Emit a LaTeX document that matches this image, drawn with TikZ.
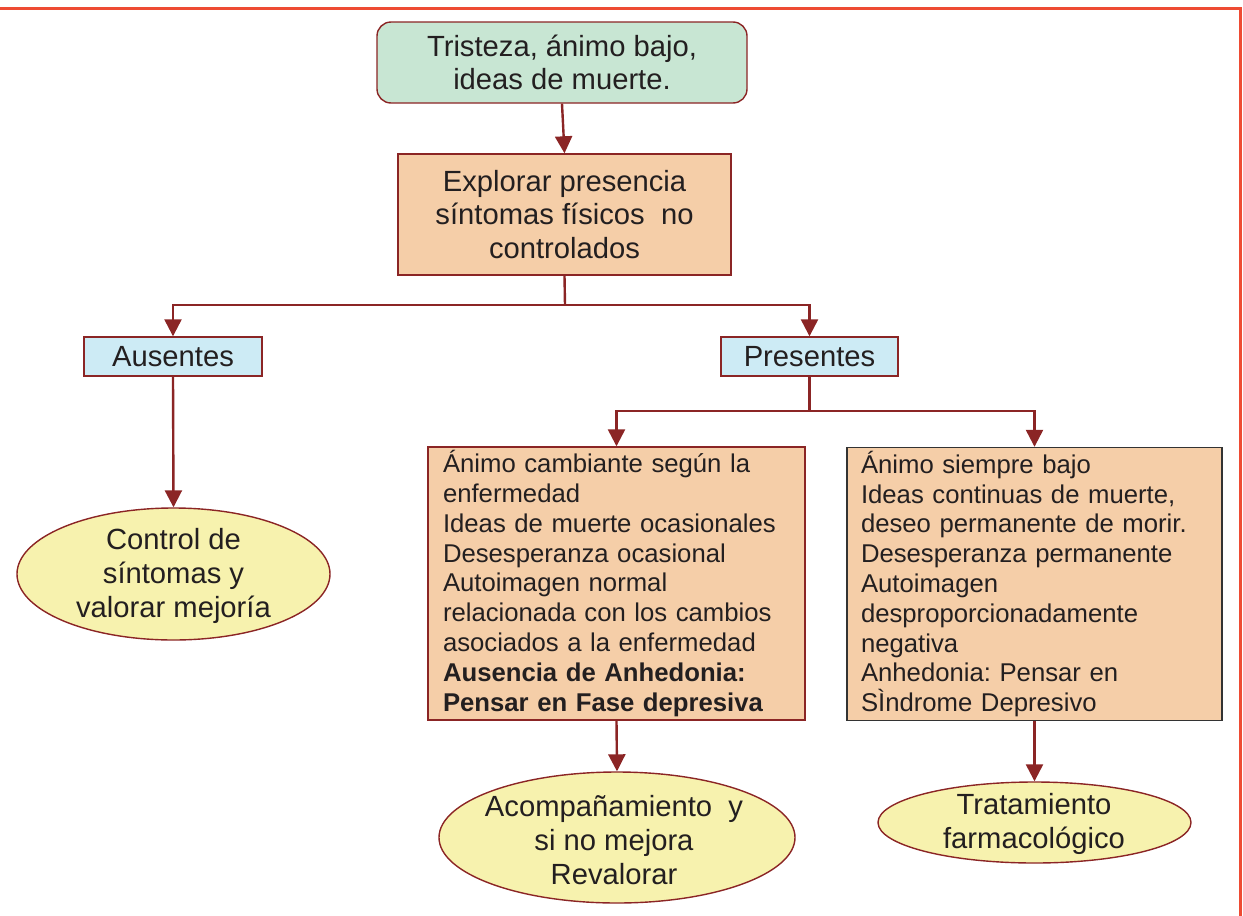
\documentclass[tikz,border=0pt]{standalone}
\usepackage{fontspec}
\setmainfont{Liberation Sans}
\usetikzlibrary{arrows.meta,shapes.geometric}
\definecolor{framered}{HTML}{EE4B33}
\definecolor{linered}{HTML}{8B2525}
\definecolor{greenfill}{HTML}{C8E6D3}
\definecolor{orangefill}{HTML}{F5CEA8}
\definecolor{bluefill}{HTML}{CDEBF5}
\definecolor{yellowfill}{HTML}{F7F2AE}
\definecolor{txt}{HTML}{231F20}
\frenchspacing
\begin{document}
\begin{tikzpicture}[x=0.5pt,y=-0.5pt,
  big/.style={font=\fontsize{14.6pt}{16.8pt}\selectfont, text=txt},
  small/.style={font=\fontsize{12.85pt}{14.9pt}\selectfont, text=txt},
  topbox/.style={big, draw=linered, line width=0.7pt, fill=greenfill, rounded corners=7pt, minimum width=185pt, minimum height=40.5pt, align=center, inner sep=0pt},
  orbox/.style={big, draw=linered, line width=0.7pt, fill=orangefill, minimum width=166.5pt, minimum height=60.5pt, align=center, inner sep=0pt},
  bluebox/.style={big, draw=linered, line width=0.7pt, fill=bluefill, minimum width=89pt, minimum height=19.5pt, inner sep=0pt},
  listbox/.style={small, line width=0.7pt, fill=orangefill, minimum height=136.5pt, text width=173.5pt, inner xsep=7.5pt, inner ysep=0pt, align=left},
  oval/.style={ellipse, draw=linered, line width=0.7pt, fill=yellowfill, inner sep=0pt},
  ovaltext/.style={big, align=center, inner sep=0pt},
  conn/.style={draw=linered, line width=1.2pt},
  arr/.style={conn, -{Triangle[width=8.5pt,length=8.5pt]}}
]
\useasboundingbox (0,0) rectangle (1243,916);
% frame
\draw[framered, line width=1.5pt] (0,8) -- (1240,8) -- (1240,916);

\node[topbox] (top) at (562,62.5) {Tristeza, ánimo bajo,\\ideas de muerte.};
\node[orbox] (expl) at (564.5,214.5) {Explorar presencia\\síntomas físicos~ no\\controlados};
\node[bluebox] (aus) at (173,356.5) {Ausentes};
\node[bluebox, minimum width=88.5pt] (pres) at (809.5,356.5) {Presentes};
\node[oval, minimum width=156.5pt, minimum height=66pt] (ctrl) at (173.5,574) {};
\node[ovaltext] (ctrlt) at (173.5,576) {Control de\\síntomas y\\valorar mejoría};
\node[listbox, draw=linered] (lbox) at (616.5,583.5) {Ánimo cambiante según la\\enfermedad\\Ideas de muerte ocasionales\\Desesperanza ocasional\\Autoimagen normal\\relacionada con los cambios\\asociados a la enfermedad\\\textbf{Ausencia de Anhedonia:}\\\textbf{Pensar en Fase depresiva}};
\node[listbox, draw=black!80, inner xsep=7pt] (rbox) at (1034.5,584) {Ánimo siempre bajo\\Ideas continuas de muerte,\\deseo permanente de morir.\\Desesperanza permanente\\Autoimagen\\desproporcionadamente\\negativa\\Anhedonia: Pensar en\\SÌndrome Depresivo};
\node[oval, minimum width=178pt, minimum height=65.5pt] (acomp) at (617,837.5) {};
\node[ovaltext] (acompt) at (614,840) {Acompañamiento~ y\\si no mejora\\Revalorar};
\node[oval, minimum width=156.5pt, minimum height=40.5pt] (trat) at (1034.5,822.5) {};
\node[ovaltext] (tratt) at (1034,824) {Tratamiento\\farmacológico};

\coordinate (j1) at (565,305);
\coordinate (j2) at (809.5,411);

\draw[arr] (top.south) -- (expl.north);
\draw[conn] (expl.south) -- (j1);
\draw[arr] (j1) -| (aus.north);
\draw[arr] (j1) -| (pres.north);
\draw[arr] (aus.south) -- (ctrl.north);
\draw[conn] (pres.south) -- (j2);
\draw[arr] (j2) -| (lbox.north);
\draw[arr] (j2) -| (rbox.north);
\draw[arr] (lbox.south) -- (acomp.north);
\draw[arr] (rbox.south) -- (trat.north);
\end{tikzpicture}
\end{document}
